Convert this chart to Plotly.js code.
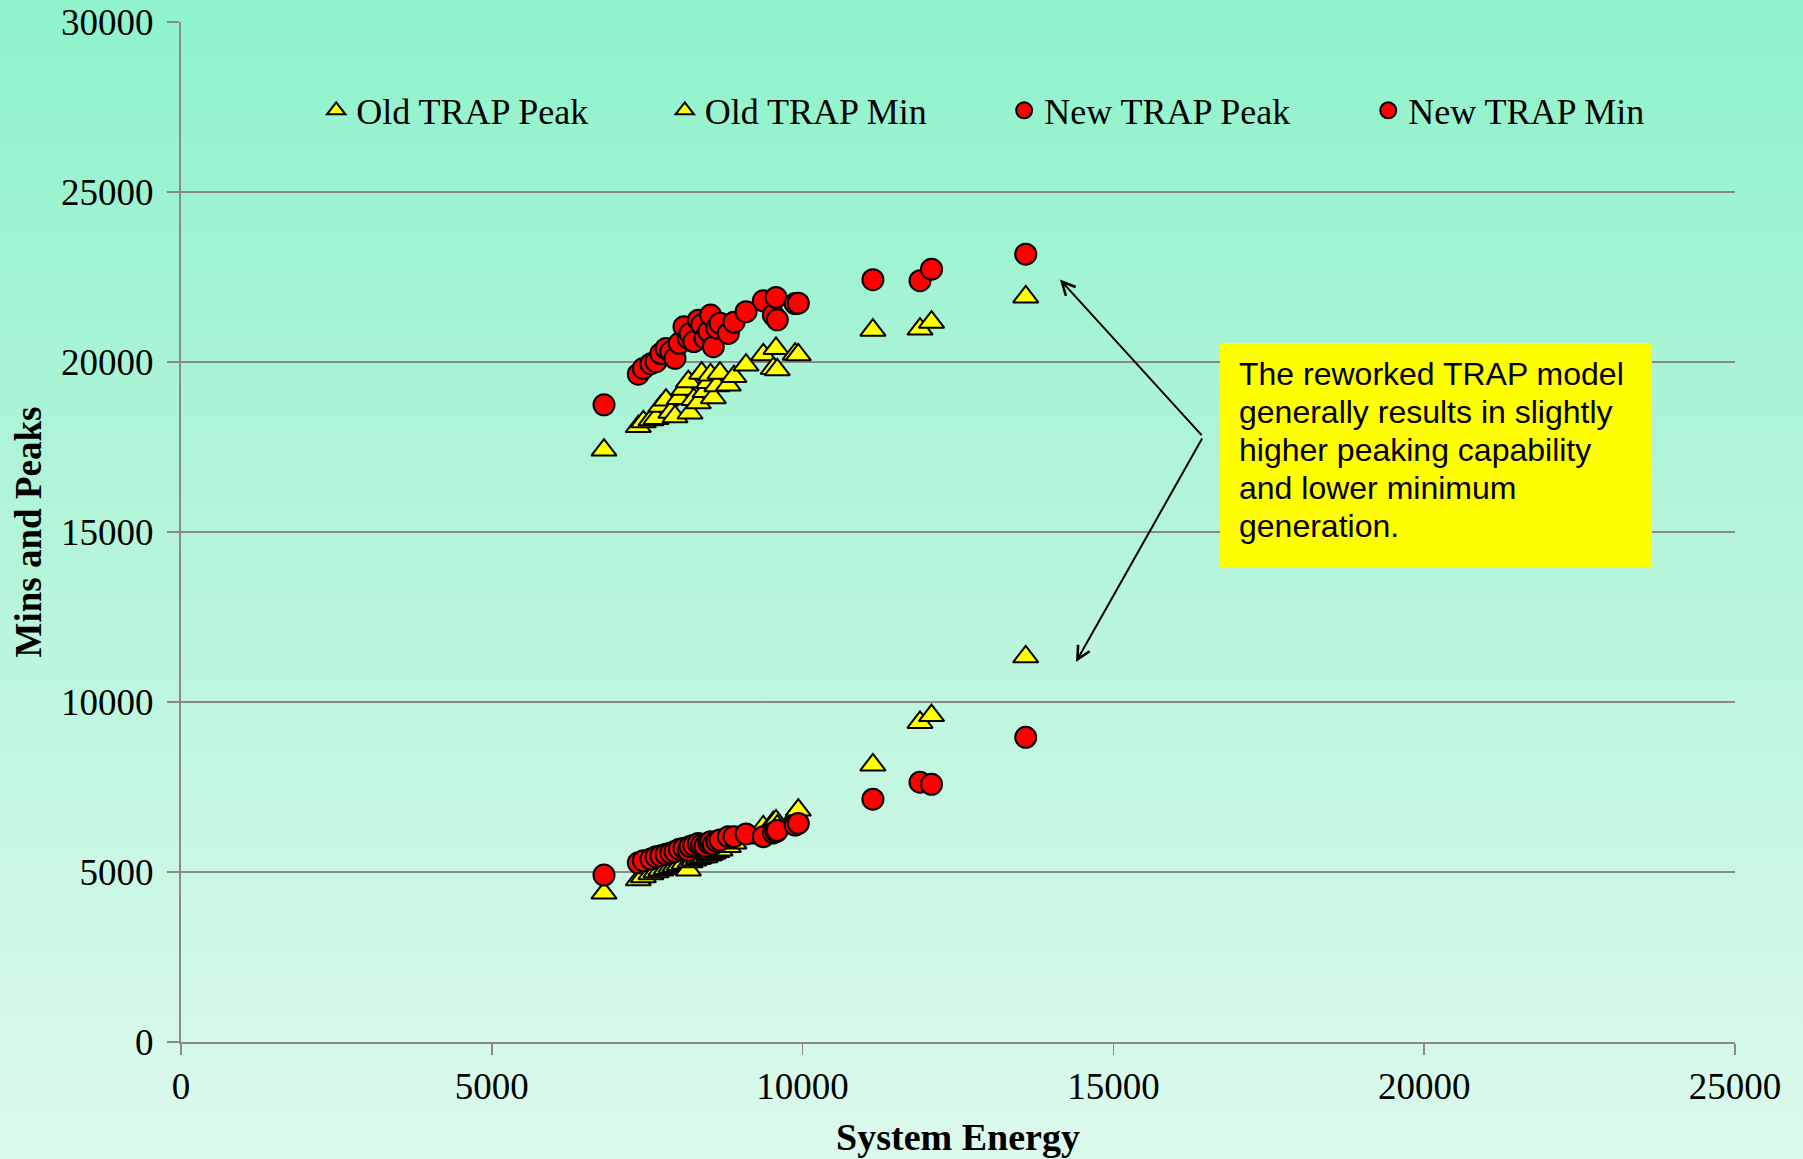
<!DOCTYPE html>
<html>
<head>
<meta charset="utf-8">
<script src="https://cdn.plot.ly/plotly-3.0.1.min.js"></script>
<style>
  html, body { margin:0; padding:0; }
  body { width:1803px; height:1159px; overflow:hidden;
         background: linear-gradient(to bottom, #8ef3cb 0%, #b3f5d9 45%, #dcfaec 100%); }
  #chart { width:1803px; height:1159px; }
</style>
</head>
<body>
<div id="chart"></div>
<script>
// ---- data ----
var energy  = [6805, 7357, 7438, 7560, 7642, 7720, 7803, 7880, 7947, 8017, 8092, 8162, 8189, 8250, 8322, 8376, 8430, 8490, 8520, 8564, 8620, 8671, 8805, 8896, 9090, 9368, 9529, 9572, 9593, 9880, 9931, 11131, 11889, 12074, 13590];
var oldPeak = [17410, 18100, 18240, 18300, 18340, 18700, 18880, 18520, 18390, 18930, 19200, 19420, 18500, 18900, 18800, 19670, 19130, 19400, 19620, 18950, 19300, 19670, 19320, 19570, 19910, 20210, 19810, 20400, 19770, 20230, 20210, 20935, 20970, 21170, 21915];
var oldMin  = [4380, 4770, 4860, 4950, 5010, 5060, 5100, 5150, 5180, 5220, 5260, 5060, 5300, 5350, 5400, 5440, 5450, 5500, 5530, 5560, 5600, 5650, 5750, 5850, 6000, 6330, 6450, 6500, 6350, 6650, 6820, 8150, 9400, 9600, 11330];
var newPeak = [18740, 19640, 19810, 19950, 20010, 20250, 20400, 20300, 20110, 20550, 21040, 20700, 20840, 20600, 21230, 21100, 20700, 20900, 21380, 20450, 21000, 21140, 20840, 21170, 21480, 21800, 21380, 21900, 21240, 21720, 21730, 22420, 22390, 22730, 23170];
var newMin  = [4910, 5270, 5330, 5380, 5450, 5480, 5520, 5560, 5600, 5670, 5700, 5640, 5750, 5790, 5840, 5800, 5770, 5850, 5890, 5820, 5900, 5940, 6040, 6040, 6120, 6040, 6150, 6190, 6220, 6380, 6430, 7140, 7640, 7580, 8960];

var seriesNames = ["Old TRAP Peak", "Old TRAP Min", "New TRAP Peak", "New TRAP Min"];
var xTickVals = [0, 5000, 10000, 15000, 20000, 25000];
var yTickVals = [0, 5000, 10000, 15000, 20000, 25000, 30000];
var noteLines = ["The reworked TRAP model", "generally results in slightly", "higher peaking capability", "and lower minimum", "generation."];

var serif = "Liberation Serif, Times New Roman, serif";
var sans = "Liberation Sans, Arial, sans-serif";

function tri(y, name, lg) {
  return { x: energy, y: y, name: name, type: 'scatter', mode: 'markers', legend: lg,
    marker: { symbol: 'triangle-up', size: 22, color: '#ffff00', line: { color: '#000000', width: 2 } } };
}
function circ(y, name, lg) {
  return { x: energy, y: y, name: name, type: 'scatter', mode: 'markers', legend: lg,
    marker: { symbol: 'circle', size: 21, color: '#ff0000', line: { color: '#000000', width: 2 } } };
}

var data = [
  tri(oldPeak, seriesNames[0], 'legend'),
  tri(oldMin, seriesNames[1], 'legend2'),
  circ(newPeak, seriesNames[2], 'legend3'),
  circ(newMin, seriesNames[3], 'legend4')
];

function lg(x) {
  return { x: x, y: 0.9133, xanchor: 'left', yanchor: 'middle', bgcolor: 'rgba(0,0,0,0)',
           font: { family: serif, size: 36, color: '#000' }, borderwidth: 0 };
}

var noteY = [0.6546, 0.6173, 0.5801, 0.5428, 0.5055];
var annotations = noteLines.map(function (t, i) {
  return { xref: 'paper', yref: 'paper', x: 0.6793, y: noteY[i], xanchor: 'left', yanchor: 'middle',
           align: 'left', text: t, showarrow: false,
           font: { family: sans, size: 32, color: '#000' } };
});
annotations.push(
  { xref: 'paper', yref: 'paper', x: 0.5656, y: 0.7475, text: '', showarrow: true,
    axref: 'pixel', ayref: 'pixel', ax: 143, ay: 157, arrowhead: 5, arrowsize: 1.3,
    arrowwidth: 2, arrowcolor: '#000', standoff: 0, startstandoff: 0 },
  { xref: 'paper', yref: 'paper', x: 0.5759, y: 0.3725, text: '', showarrow: true,
    axref: 'pixel', ayref: 'pixel', ax: 127, ay: -225, arrowhead: 5, arrowsize: 1.3,
    arrowwidth: 2, arrowcolor: '#000', standoff: 0, startstandoff: 0 }
);

var layout = {
  width: 1803, height: 1159,
  font: { family: serif, size: 36, color: '#000' },
  paper_bgcolor: 'rgba(0,0,0,0)', plot_bgcolor: 'rgba(0,0,0,0)',
  margin: { l: 181, r: 68, t: 22, b: 117, pad: 0 },
  showlegend: true,
  legend: lg(0.087), legend2: lg(0.3113), legend3: lg(0.5297), legend4: lg(0.764),
  xaxis: {
    range: [0, 25000], tickvals: xTickVals, ticktext: xTickVals.map(String),
    showgrid: false, zeroline: false, showline: true, linecolor: '#8a8a8a', linewidth: 2,
    ticks: 'outside', ticklen: 11, tickwidth: 1.5, tickcolor: '#8a8a8a',
    tickfont: { family: serif, size: 37, color: '#000' }, ticklabelstandoff: 0,
    title: { text: '<b>System Energy</b>', font: { family: serif, size: 38, color: '#000' }, standoff: 17 },
    automargin: false, fixedrange: true
  },
  yaxis: {
    range: [0, 30000], tickvals: yTickVals, ticktext: yTickVals.map(String),
    showgrid: true, gridcolor: '#8a8a8a', gridwidth: 2, zeroline: false,
    showline: true, linecolor: '#8a8a8a', linewidth: 2,
    ticks: 'outside', ticklen: 12, tickwidth: 1.5, tickcolor: '#8a8a8a',
    tickfont: { family: serif, size: 37, color: '#000' }, ticklabelstandoff: 6,
    title: { text: '<b>Mins and Peaks</b>', font: { family: serif, size: 37, color: '#000' }, standoff: 8 },
    automargin: false, fixedrange: true
  },
  shapes: [
    { type: 'rect', xref: 'paper', yref: 'paper', x0: 0.6686, x1: 0.9466, y0: 0.4657, y1: 0.6853,
      fillcolor: '#ffff00', line: { width: 0 }, layer: 'above' }
  ],
  annotations: annotations
};

Plotly.newPlot('chart', data, layout, { displayModeBar: false, staticPlot: true });
</script>
</body>
</html>
